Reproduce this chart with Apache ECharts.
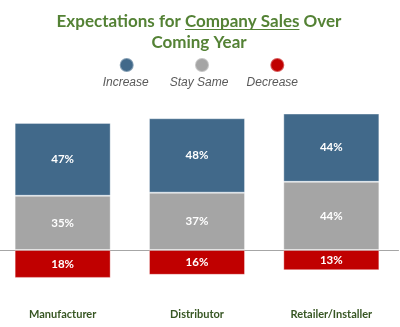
<!DOCTYPE html>
<html>
<head>
<meta charset="utf-8">
<script src="https://cdn.jsdelivr.net/npm/echarts@6/dist/echarts.min.js"></script>
<style>html,body{margin:0;padding:0;background:#fff}#c{width:400px;height:327px}</style>
</head>
<body>
<div id="c"></div>
<script>
var categories = ['Manufacturer', 'Distributor', 'Retailer/Installer'];
var seriesNames = ['Increase', 'Stay Same', 'Decrease'];
var increaseVals = [47, 48, 44];
var staySameVals = [35, 37, 44];
var decreaseVals = [18, 16, 13];
var colors = { 'Increase': '#41698A', 'Stay Same': '#A5A5A5', 'Decrease': '#C00000' };

var titlePre = 'Expectations for ';
var titleUnder = 'Company Sales';
var titlePost = ' Over';
var titleLine2 = 'Coming Year';
var titleFont = 'bold 17px Lato';
var green = '#548235';

var chart = echarts.init(document.getElementById('c'), null, { renderer: 'canvas' });

var ctx = document.createElement('canvas').getContext('2d');
ctx.font = titleFont;
var wPre = ctx.measureText(titlePre).width;
var wUnder = ctx.measureText(titleUnder).width;
var wAll = ctx.measureText(titlePre + titleUnder + titlePost).width;
var titleCx = 199;
var ux0 = titleCx - wAll / 2 + wPre;
var ux1 = ux0 + wUnder;

var legendX = [125.7, 199, 272.3];
var graphics = [{
  type: 'line', silent: true,
  shape: { x1: ux0, y1: 29.5, x2: ux1, y2: 29.5 },
  style: { stroke: green, lineWidth: 1 }
}];
seriesNames.forEach(function (n, i) {
  graphics.push({
    type: 'text', silent: true, x: legendX[i], y: 83,
    style: { text: n, fill: '#595959', font: 'italic 12px "Liberation Sans"', align: 'center', verticalAlign: 'middle' }
  });
});

var labelStyle = {
  show: true, position: 'inside', color: '#fff',
  fontFamily: 'Lato', fontWeight: 'bold', fontSize: 11.5,
  formatter: function (p) { return Math.abs(p.value) + '%'; }
};
var barBorder = { borderColor: 'rgba(255,255,255,0.35)', borderWidth: 1 };

chart.setOption({
  animation: false,
  title: {
    text: '{a|' + titlePre + titleUnder + titlePost + '}\n{a|' + titleLine2 + '}',
    left: titleCx, textAlign: 'center', top: 11.5, padding: 0,
    textStyle: { rich: { a: { fontFamily: 'Lato', fontWeight: 'bold', fontSize: 17, lineHeight: 21, color: green } } }
  },
  legend: {
    data: seriesNames.slice(),
    left: 118.7, top: 57, padding: 0, itemWidth: 14, itemHeight: 14, itemGap: 59.3,
    icon: 'circle', formatter: function () { return ''; },
    textStyle: { fontSize: 1 }, selectedMode: false
  },
  graphic: graphics,
  grid: { left: -4.5, right: 1.5, top: 110.5, bottom: 46, containLabel: false, outerBoundsMode: 'none' },
  xAxis: {
    type: 'category', data: categories,
    axisLine: { show: true, onZero: true, lineStyle: { color: '#A6A6A6', width: 1 } },
    axisTick: { show: false },
    axisLabel: { margin: 28, color: '#375623', fontFamily: 'Lato', fontWeight: 'bold', fontSize: 11 }
  },
  yAxis: { type: 'value', min: -20, max: 90, show: false, splitLine: { show: false } },
  series: [
    { name: 'Stay Same', type: 'bar', stack: 's', barWidth: 96, data: staySameVals,
      itemStyle: Object.assign({ color: colors['Stay Same'] }, barBorder), label: labelStyle },
    { name: 'Increase', type: 'bar', stack: 's', barWidth: 96, data: increaseVals,
      itemStyle: Object.assign({ color: colors['Increase'] }, barBorder), label: labelStyle },
    { name: 'Decrease', type: 'bar', stack: 's', barWidth: 96, data: decreaseVals.map(function (v) { return -v; }),
      itemStyle: Object.assign({ color: colors['Decrease'] }, barBorder), label: labelStyle }
  ]
});
</script>
</body>
</html>
